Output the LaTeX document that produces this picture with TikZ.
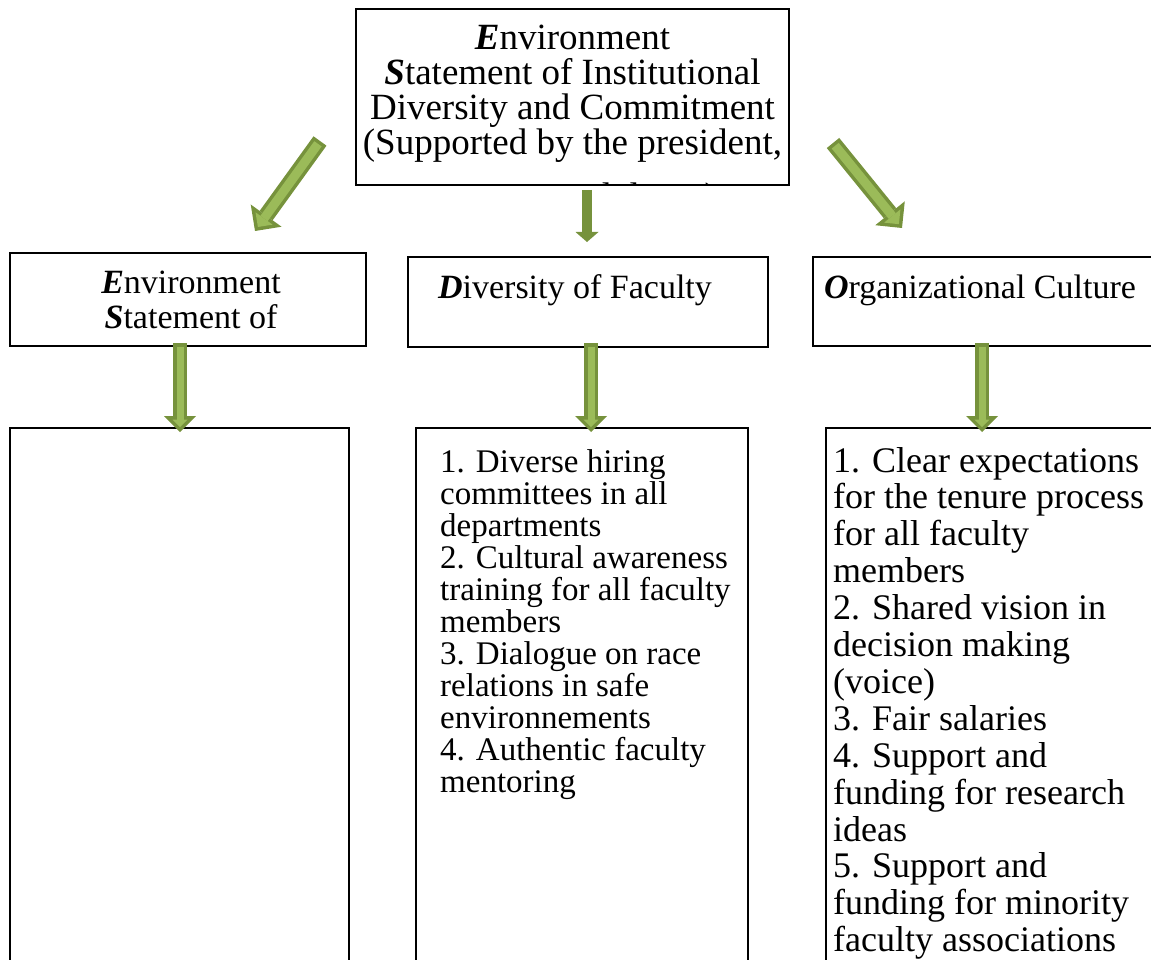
\documentclass[tikz,border=0pt]{standalone}
\usepackage{fontspec}
\setmainfont{Liberation Serif}
\usetikzlibrary{arrows.meta}
\definecolor{arrowline}{RGB}{118,146,60}
\definecolor{arrowfill}{RGB}{155,187,89}
\newcommand\ini[1]{\textbf{\textit{#1}}}
\tikzset{
  box/.style={draw, line width=1.6pt, inner sep=0pt},
  txt/.style={font=\fontsize{33}{35}\selectfont, inner sep=0pt},
  bigtxt/.style={font=\fontsize{36}{37}\selectfont, inner sep=0pt},
  toptxt/.style={font=\fontsize{37}{37}\selectfont, inner sep=0pt},
  headtxt/.style={font=\fontsize{34}{35}\selectfont, inner sep=0pt},
  fatout/.style={arrowline, line width=14pt,
    -{Triangle[width=32pt,length=16pt,line width=0pt]}},
  fatin/.style={arrowfill, line width=7pt, shorten <=3.5pt, shorten >=4.95pt,
    -{Triangle[width=15pt,length=7.5pt,line width=0pt]}},
  slantout/.style={arrowline, line width=16pt,
    -{Triangle[width=38pt,length=19pt,line width=0pt]}},
  slantin/.style={arrowfill, line width=9pt, shorten <=3.5pt, shorten >=4.95pt,
    -{Triangle[width=21pt,length=10.5pt,line width=0pt]}},
  thinarrow/.style={arrowline, line width=10pt,
    -{Triangle[width=23pt,length=10pt,line width=0pt]}}
}
\begin{document}
\begin{tikzpicture}[x=1pt,y=-1pt]
\useasboundingbox (0,0) rectangle (1151,960);
\clip (0,0) rectangle (1151,960);

% boxes
\node[box, minimum width=433pt, minimum height=176pt] (envtop) at (572.5,97) {};
\node[box, minimum width=356pt, minimum height=93pt] (envbox) at (188,299.5) {};
\node[box, minimum width=360pt, minimum height=90pt] (divbox) at (588,302) {};
\node[box, minimum width=360pt, minimum height=89pt] (orgbox) at (993,301.5) {};
\node[box, minimum width=339pt, minimum height=550pt] (envlist) at (179.5,703) {};
\node[box, minimum width=332pt, minimum height=550pt] (divlist) at (582,703) {};
\node[box, minimum width=345pt, minimum height=550pt] (orglist) at (998.5,703) {};

% top box text, last line cut by the box
\begin{scope}
\clip ([yshift=0.8pt]envtop.south west) rectangle (envtop.north east);
\foreach \ln [count=\i] in {{\ini{E}nvironment},{\ini{S}tatement of Institutional},
    {Diversity and Commitment},{(Supported by the president,}}
  \node[toptxt, anchor=base] (top\i) at (572.5,15+35*\i) {\ln};
\node[toptxt, anchor=base] (top5) at (572.5,208) {provost, and deans)};
\end{scope}

% headings
\node[headtxt, anchor=base] (env1) at (191,293) {\ini{E}nvironment};
\node[headtxt, anchor=base] (env2) at (191,328) {\ini{S}tatement of};
\node[headtxt, anchor=base] (div1) at (575,298) {\ini{D}iversity of Faculty};
\node[headtxt, anchor=base] (org1) at (980,298) {\ini{O}rganizational Culture};

% lists
\foreach \ln [count=\i] in {{1. Diverse hiring},{committees in all},{departments},
    {2. Cultural awareness},{training for all faculty},{members},
    {3. Dialogue on race},{relations in safe},{environnements},
    {4. Authentic faculty},{mentoring}}
  \node[txt, anchor=base west] (dl\i) at (440,472+32*\i-32) {\ln};
\foreach \ln [count=\i] in {{1. Clear expectations},{for the tenure process},
    {for all faculty},{members},{2. Shared vision in},{decision making},
    {(voice)},{3. Fair salaries},{4. Support and},{funding for research},
    {ideas},{5. Support and},{funding for minority},{faculty associations}}
  \node[bigtxt, anchor=base west] (ol\i) at (833,472+36.9*\i-36.9) {\ln};

% arrows
\coordinate (la0) at (320,141); \coordinate (la1) at (255,231);
\coordinate (ra0) at (833,143); \coordinate (ra1) at (902,228);
\coordinate (ca0) at (587,190); \coordinate (ca1) at (587,242);
\coordinate (lv0) at (180,343); \coordinate (lv1) at (180,432);
\coordinate (mv0) at (591,343); \coordinate (mv1) at (591,432);
\coordinate (rv0) at (982,343); \coordinate (rv1) at (982,432);
\foreach \a in {la,ra} {
  \draw[slantout] (\a0) -- (\a1);
  \draw[slantin] (\a0) -- (\a1);
}
\foreach \a in {lv,mv,rv} {
  \draw[fatout] (\a0) -- (\a1);
  \draw[fatin] (\a0) -- (\a1);
}
\draw[thinarrow] (ca0) -- (ca1);
\end{tikzpicture}
\end{document}
